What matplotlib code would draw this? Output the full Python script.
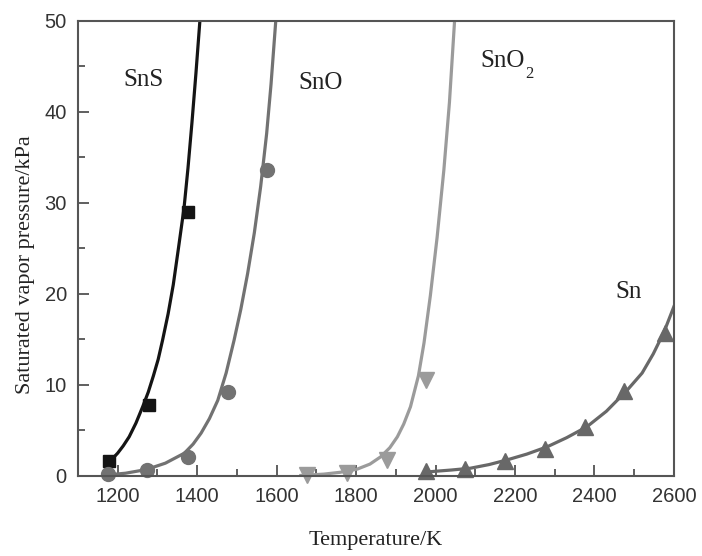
import matplotlib.pyplot as plt
from matplotlib.ticker import MultipleLocator

# measured points (T in K, P in kPa)
sns_T = [1178, 1278, 1378]
sns_P = [1.6, 7.8, 29.0]
sno_T = [1175, 1275, 1376, 1477, 1577]
sno_P = [0.2, 0.6, 2.1, 9.2, 33.6]
sno2_T = [1677, 1778, 1879, 1975]
sno2_P = [0.1, 0.3, 1.7, 10.5]
sn_T = [1975, 2075, 2176, 2276, 2377, 2475, 2578]
sn_P = [0.5, 0.8, 1.6, 3.0, 5.4, 9.3, 15.7]

# fitted curves
sns_curve_T = [1173, 1187, 1200, 1214, 1229, 1246, 1263, 1277, 1290, 1302, 1313, 1327, 1340, 1353, 1367, 1377, 1387, 1397, 1407]
sns_curve_P = [1.3, 1.9, 2.5, 3.3, 4.3, 5.8, 7.6, 9.2, 11.0, 12.8, 14.9, 17.8, 21.0, 25.0, 29.4, 33.8, 38.8, 44.2, 50.0]
sno_curve_T = [1171, 1220, 1272, 1320, 1368, 1390, 1410, 1431, 1452, 1473, 1493, 1510, 1527, 1544, 1560, 1575, 1586, 1598]
sno_curve_P = [0.1, 0.3, 0.7, 1.4, 2.5, 3.5, 4.7, 6.3, 8.3, 11.3, 14.9, 18.3, 22.2, 26.7, 31.8, 37.6, 43.0, 50.0]
sno2_curve_T = [1661, 1719, 1760, 1803, 1835, 1862, 1885, 1904, 1920, 1937, 1957, 1971, 1987, 2004, 2021, 2035, 2048]
sno2_curve_P = [0.05, 0.2, 0.4, 0.75, 1.3, 2.1, 3.1, 4.3, 5.7, 7.6, 11.0, 14.6, 19.8, 26.2, 33.6, 41.0, 50.0]
sn_curve_T = [1973, 1996, 2040, 2088, 2135, 2180, 2230, 2281, 2330, 2381, 2430, 2482, 2520, 2548, 2575, 2600]
sn_curve_P = [0.4, 0.5, 0.65, 0.85, 1.25, 1.76, 2.4, 3.2, 4.2, 5.4, 7.1, 9.4, 11.3, 13.4, 15.8, 18.6]

c_sns = '#141414'
c_sno = '#727272'
c_sno2 = '#9b9b9b'
c_sn = '#686868'

plt.rcParams['font.family'] = ['Liberation Sans', 'DejaVu Sans']

fig = plt.figure(figsize=(7.02, 5.56), dpi=100)
ax = fig.add_axes([0.111, 0.144, 0.849, 0.819])

ax.plot(sns_curve_T, sns_curve_P, color=c_sns, lw=2.3)
ax.plot(sno_curve_T, sno_curve_P, color=c_sno, lw=2.3)
ax.plot(sno2_curve_T, sno2_curve_P, color=c_sno2, lw=2.3)
ax.plot(sn_curve_T, sn_curve_P, color=c_sn, lw=2.3)

ax.plot(sns_T, sns_P, 's', color=c_sns, ms=8, clip_on=False)
ax.plot(sno_T, sno_P, 'o', color=c_sno, ms=10, clip_on=False)
ax.plot(sno2_T, sno2_P, 'v', color=c_sno2, ms=11, clip_on=False)
ax.plot(sn_T, sn_P, '^', color=c_sn, ms=11, clip_on=False)

serif = ['Liberation Serif', 'DejaVu Serif']
ax.text(1266, 43.5, 'SnS', fontsize=18, family=serif, ha='center', va='center', color='#222222')
ax.text(1711, 43.2, 'SnO', fontsize=18, family=serif, ha='center', va='center', color='#222222')
ax.text(2114, 44.9, 'SnO', fontsize=18, family=serif, ha='left', va='baseline', color='#222222')
ax.text(2226, 43.7, '2', fontsize=12, family=serif, ha='left', va='baseline', color='#222222')
ax.text(2485, 20.2, 'Sn', fontsize=18, family=serif, ha='center', va='center', color='#222222')

ax.set_xlim(1100, 2600)
ax.set_ylim(0, 50)
ax.xaxis.set_major_locator(MultipleLocator(200))
ax.xaxis.set_minor_locator(MultipleLocator(100))
ax.yaxis.set_major_locator(MultipleLocator(10))
ax.yaxis.set_minor_locator(MultipleLocator(5))
ax.tick_params(which='both', direction='in', top=False, right=False,
               color='#444444', width=1.2, labelsize=14.5, labelcolor='#333333', pad=8)
ax.tick_params(which='major', length=8)
ax.tick_params(which='minor', length=5)
for s in ax.spines.values():
    s.set_color('#555555')
    s.set_linewidth(1.5)

ax.set_xlabel('Temperature/K', fontsize=16, family=serif, color='#222222', labelpad=18)
ax.set_ylabel('Saturated vapor pressure/kPa', fontsize=16, family=serif, color='#222222')
ax.yaxis.set_label_coords(-0.072, 0.465)

fig.savefig('out.png', dpi=100)
